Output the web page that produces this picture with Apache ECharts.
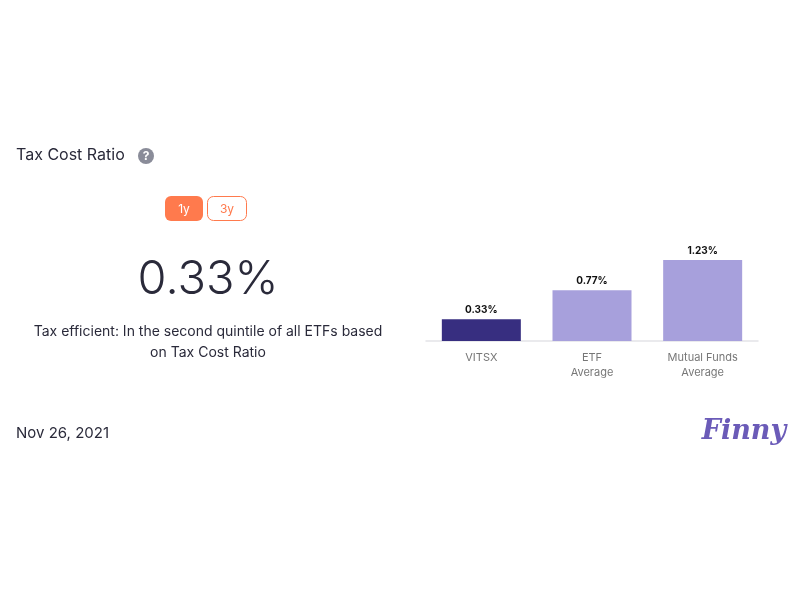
<!DOCTYPE html>
<html><head><meta charset="utf-8">
<script src="https://cdn.jsdelivr.net/npm/echarts@6/dist/echarts.min.js"></script>
<style>html,body{margin:0;padding:0;background:#fff}#c{width:800px;height:600px}</style>
</head><body><div id="c"></div>
<script>
const categories = ['VITSX', 'ETF\nAverage', 'Mutual Funds\nAverage'];
const values = [0.33, 0.77, 1.23];
const barColors = ['#372e80', '#a7a0dc', '#a7a0dc'];
const F = 'Inter, "Noto Sans", sans-serif';
const chart = echarts.init(document.getElementById('c'));
chart.setOption({
  animation: false,
  grid: {left: 426, width: 332, top: 230, height: 111},
  xAxis: {type: 'category', data: categories,
    axisLine: {lineStyle: {color: '#e3e3e8', width: 1.5}}, axisTick: {show: false},
    axisLabel: {color: '#777', fontSize: 11, fontFamily: F, lineHeight: 15, margin: 9}},
  yAxis: {type: 'value', min: 0, max: 1.685, show: false, splitLine: {show: false}},
  series: [{type: 'bar', barWidth: 79,
    data: values.map((v, i) => ({value: v, itemStyle: {color: barColors[i]}})),
    label: {show: true, position: 'top', formatter: p => p.value.toFixed(2) + '%',
      color: '#111', fontSize: 10, fontWeight: 'bold', fontFamily: F, distance: 4}}],
  graphic: [
    {type: 'text', left: 16, top: 147, style: {text: 'Tax Cost Ratio', fontSize: 16, fill: '#2a2a3a', fontFamily: F}},
    {type: 'circle', shape: {cx: 146, cy: 156, r: 8}, style: {fill: '#8a8c99'}},
    {type: 'text', x: 146, y: 156, style: {text: '?', fontSize: 12, fontWeight: 'bold', fill: '#fff', align: 'center', verticalAlign: 'middle', fontFamily: F}},
    {type: 'rect', shape: {x: 165, y: 196, width: 38, height: 25, r: 6}, style: {fill: '#ff7a4d'}},
    {type: 'text', x: 184, y: 209, style: {text: '1y', fontSize: 12, fill: '#fff', align: 'center', verticalAlign: 'middle', fontFamily: F}},
    {type: 'rect', shape: {x: 207.5, y: 196.5, width: 39, height: 24, r: 6}, style: {fill: '#fff', stroke: '#ff7a4d', lineWidth: 1}},
    {type: 'text', x: 227, y: 209, style: {text: '3y', fontSize: 12, fill: '#ff7a4d', align: 'center', verticalAlign: 'middle', fontFamily: F}},
    {type: 'text', x: 208, y: 280, style: {text: '0.33%', fontSize: 47, fontWeight: 300, fill: '#2a2a3a', align: 'center', verticalAlign: 'middle', fontFamily: F}},
    {type: 'text', x: 208, y: 342, style: {text: 'Tax efficient: In the second quintile of all ETFs based\non Tax Cost Ratio', fontSize: 14, lineHeight: 21, fill: '#2a2a3a', align: 'center', verticalAlign: 'middle', fontFamily: F}},
    {type: 'text', left: 16, top: 426, style: {text: 'Nov 26, 2021', fontSize: 15, fill: '#2a2a3a', fontFamily: F}},
    {type: 'text', x: 744, y: 432, style: {text: 'Finny', fontSize: 27, fontWeight: 'bold', fontStyle: 'italic', fill: '#6b5bb8', align: 'center', verticalAlign: 'middle', fontFamily: 'DejaVu Serif, serif'}}
  ]
});
</script></body></html>
